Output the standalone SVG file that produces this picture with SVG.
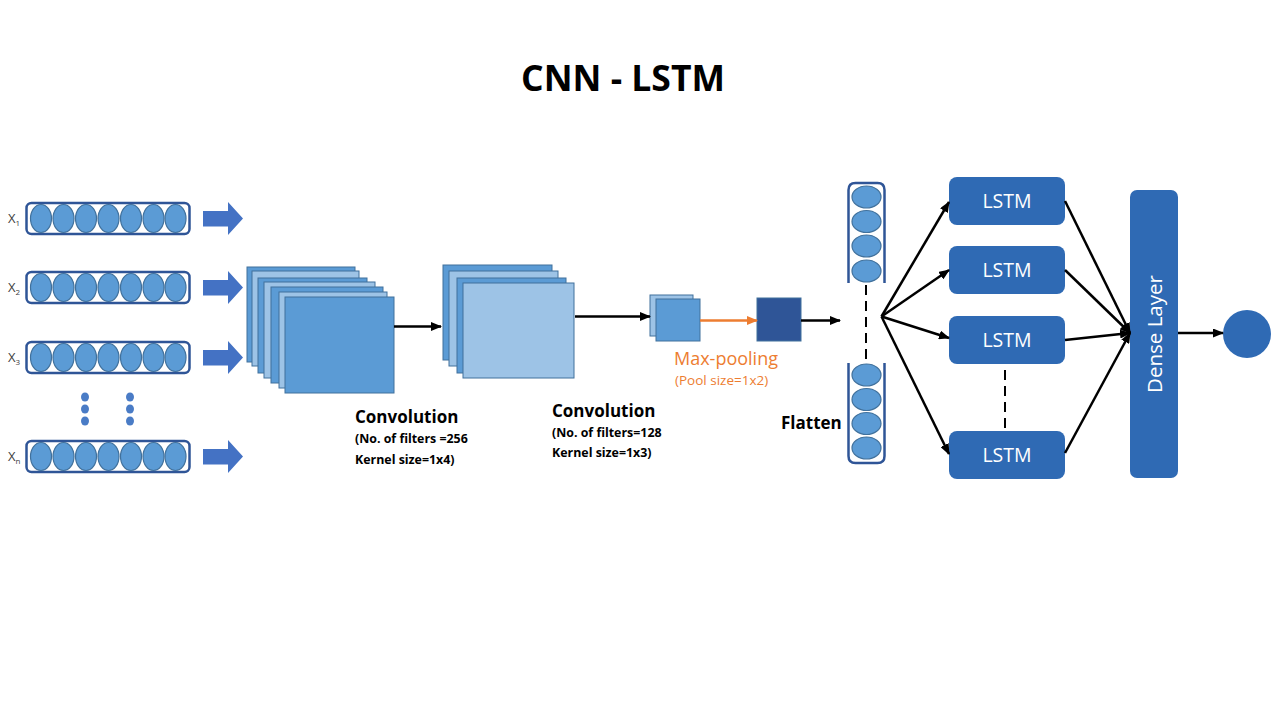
<svg xmlns="http://www.w3.org/2000/svg" width="1280" height="720" viewBox="0 0 1280 720">
<defs>
<style>
text{font-family:"Open Sans","Liberation Sans",sans-serif}
.title{font-size:35.5px;font-weight:bold;fill:#000}
.lbl{font-size:17px;font-weight:bold;fill:#000}
.sub{font-size:12.4px;font-weight:bold;fill:#000}
.xl{font-size:13px;fill:#404040}
.xs{font-size:8px;fill:#404040}
.vec{fill:#fff;stroke:#2F5597;stroke-width:2.5}
.vecopen{fill:none;stroke:#2F5597;stroke-width:2.5}
.cell{fill:#5B9BD5;stroke:#41719C;stroke-width:1.2}
.blk{fill:#4472C4}
.dot{fill:#4A7CC6}
.fm{fill:#5B9BD5;stroke:#41719C;stroke-width:1}
.fl{fill:#9DC3E6;stroke:#41719C;stroke-width:1}
.lstm{fill:#2F6AB4}
.lt{font-size:19.5px;fill:#fff;text-anchor:middle}
.conn{stroke:#000;stroke-width:2.5;fill:none;marker-end:url(#ah)}
.dash{stroke:#000;stroke-width:2;stroke-dasharray:10 6;fill:none}
.orange{stroke:#ED7D31;stroke-width:2.5;fill:none;marker-end:url(#aho)}
.mp{font-size:18px;fill:#ED7D31}
.ps{font-size:13.5px;fill:#ED7D31}
</style>
<marker id="ah" markerUnits="userSpaceOnUse" markerWidth="11" markerHeight="9" refX="10" refY="4.5" orient="auto"><path d="M0,0 L11,4.5 L0,9 z" fill="#000"/></marker>
<marker id="aho" markerUnits="userSpaceOnUse" markerWidth="11" markerHeight="9" refX="10" refY="4.5" orient="auto"><path d="M0,0 L11,4.5 L0,9 z" fill="#ED7D31"/></marker>
<g id="rowcells">
<ellipse class="cell" cx="41" cy="0" rx="10.5" ry="14"/>
<ellipse class="cell" cx="63.5" cy="0" rx="10.5" ry="14"/>
<ellipse class="cell" cx="86" cy="0" rx="10.5" ry="14"/>
<ellipse class="cell" cx="108.5" cy="0" rx="10.5" ry="14"/>
<ellipse class="cell" cx="131" cy="0" rx="10.5" ry="14"/>
<ellipse class="cell" cx="153.5" cy="0" rx="10.5" ry="14"/>
<ellipse class="cell" cx="175.5" cy="0" rx="10.5" ry="14"/>
</g>
<path id="blockarrow" d="M203,-7.5 H228 V-16.5 L243,0 L228,16.5 V8 H203 z"/>
</defs>
<rect width="1280" height="720" fill="#fff"/>

<text class="title" x="623" y="91" text-anchor="middle">CNN - LSTM</text>

<g id="input-x1">
<text class="xl" x="8" y="223">X<tspan class="xs" dy="3">1</tspan></text>
<rect class="vec" x="26.5" y="203" width="163" height="31" rx="5"/>
<use href="#rowcells" y="218.5"/>
<use href="#blockarrow" class="blk" y="218.5"/>
</g>
<g id="input-x2">
<text class="xl" x="8" y="292">X<tspan class="xs" dy="3">2</tspan></text>
<rect class="vec" x="26.5" y="272" width="163" height="31" rx="5"/>
<use href="#rowcells" y="287.5"/>
<use href="#blockarrow" class="blk" y="287.5"/>
</g>
<g id="input-x3">
<text class="xl" x="8" y="362">X<tspan class="xs" dy="3">3</tspan></text>
<rect class="vec" x="26.5" y="342" width="163" height="31" rx="5"/>
<use href="#rowcells" y="357.5"/>
<use href="#blockarrow" class="blk" y="357.5"/>
</g>
<g id="ellipsis-dots">
<ellipse class="dot" cx="85" cy="397" rx="4" ry="4.5"/>
<ellipse class="dot" cx="85" cy="409" rx="4" ry="4.5"/>
<ellipse class="dot" cx="85" cy="421" rx="4" ry="4.5"/>
<ellipse class="dot" cx="130" cy="397" rx="4" ry="4.5"/>
<ellipse class="dot" cx="130" cy="409" rx="4" ry="4.5"/>
<ellipse class="dot" cx="130" cy="421" rx="4" ry="4.5"/>
</g>
<g id="input-xn">
<text class="xl" x="8" y="461">X<tspan class="xs" dy="3">n</tspan></text>
<rect class="vec" x="26.5" y="441" width="163" height="31" rx="5"/>
<use href="#rowcells" y="456.5"/>
<use href="#blockarrow" class="blk" y="456.5"/>
</g>

<g id="conv1">
<rect class="fm" x="247" y="267" width="108" height="95"/>
<rect class="fl" x="252" y="271" width="107" height="95"/>
<rect class="fm" x="258" y="278" width="109" height="95"/>
<rect class="fl" x="264" y="282" width="111" height="96"/>
<rect class="fm" x="271" y="287" width="112" height="96"/>
<rect class="fl" x="279" y="292" width="108" height="96"/>
<rect class="fm" x="285" y="297" width="109" height="96"/>
<text class="lbl" x="355" y="423">Convolution</text>
<text class="sub" x="355" y="443">(No. of filters =256</text>
<text class="sub" x="355" y="464">Kernel size=1x4)</text>
</g>

<g id="conv2">
<rect class="fm" x="443" y="265" width="109" height="95"/>
<rect class="fl" x="449" y="271" width="109" height="95"/>
<rect class="fm" x="457" y="278" width="109" height="95"/>
<rect class="fl" x="463" y="283" width="111" height="95"/>
<text class="lbl" x="552" y="417">Convolution</text>
<text class="sub" x="552" y="437">(No. of filters=128</text>
<text class="sub" x="552" y="457">Kernel size=1x3)</text>
</g>

<g id="maxpool">
<rect class="fl" x="650" y="295" width="43" height="41"/>
<rect class="fm" x="656" y="299" width="44" height="42"/>
<text class="mp" x="674" y="365">Max-pooling</text>
<text class="ps" x="675" y="385">(Pool size=1x2)</text>
</g>

<g id="pooled">
<rect x="757" y="298" width="44" height="43" fill="#2F5597" stroke="#41719C" stroke-width="1"/>
</g>

<g id="flatten">
<path class="vecopen" d="M848.5,283 V190 Q848.5,183 855.5,183 H877.5 Q884.5,183 884.5,190 V283"/>
<ellipse class="cell" cx="866.5" cy="197" rx="14.5" ry="11"/>
<ellipse class="cell" cx="866.5" cy="221.5" rx="14.5" ry="11"/>
<ellipse class="cell" cx="866.5" cy="246" rx="14.5" ry="11"/>
<ellipse class="cell" cx="866.5" cy="271" rx="14.5" ry="11"/>
<path class="vecopen" d="M848.5,363 V456 Q848.5,463 855.5,463 H877.5 Q884.5,463 884.5,456 V363"/>
<ellipse class="cell" cx="866.5" cy="375" rx="14.5" ry="11"/>
<ellipse class="cell" cx="866.5" cy="399.5" rx="14.5" ry="11"/>
<ellipse class="cell" cx="866.5" cy="423.5" rx="14.5" ry="11"/>
<ellipse class="cell" cx="866.5" cy="448" rx="14.5" ry="11"/>
<text class="lbl" x="781" y="429">Flatten</text>
</g>

<g id="lstm1"><rect class="lstm" x="949" y="177" width="116" height="48" rx="8"/><text class="lt" x="1007" y="208">LSTM</text></g>
<g id="lstm2"><rect class="lstm" x="949" y="246" width="116" height="48" rx="8"/><text class="lt" x="1007" y="277">LSTM</text></g>
<g id="lstm3"><rect class="lstm" x="949" y="316" width="116" height="48" rx="8"/><text class="lt" x="1007" y="347">LSTM</text></g>
<g id="lstm4"><rect class="lstm" x="949" y="431" width="116" height="48" rx="8"/><text class="lt" x="1007" y="462">LSTM</text></g>

<g id="dense">
<rect class="lstm" x="1130" y="190" width="48" height="288" rx="7"/>
<text x="1154" y="334" font-size="20.5" fill="#fff" text-anchor="middle" dominant-baseline="central" transform="rotate(-90 1154 334)">Dense Layer</text>
</g>

<g id="output">
<circle cx="1247" cy="334" r="24" fill="#2F6AB4"/>
</g>

<g id="connectors">
<line class="conn" x1="394" y1="326.5" x2="441" y2="326.5"/>
<line class="conn" x1="575" y1="316.5" x2="650" y2="316.5"/>
<line class="orange" x1="700" y1="320.5" x2="757" y2="320.5"/>
<line class="conn" x1="801" y1="320.5" x2="840" y2="320.5"/>
<line class="dash" x1="866" y1="285" x2="866" y2="361"/>
<line class="conn" x1="881.5" y1="316.5" x2="949" y2="202"/>
<line class="conn" x1="881.5" y1="316.5" x2="949" y2="270"/>
<line class="conn" x1="881.5" y1="316.5" x2="949" y2="338"/>
<line class="conn" x1="881.5" y1="316.5" x2="949" y2="454"/>
<line class="dash" x1="1005" y1="370" x2="1005" y2="431"/>
<line class="conn" x1="1065" y1="201" x2="1130" y2="333"/>
<line class="conn" x1="1065" y1="270" x2="1130" y2="333"/>
<line class="conn" x1="1065" y1="340" x2="1130" y2="333"/>
<line class="conn" x1="1065" y1="453" x2="1130" y2="333"/>
<line class="conn" x1="1178" y1="333" x2="1223" y2="333"/>
</g>
</svg>
